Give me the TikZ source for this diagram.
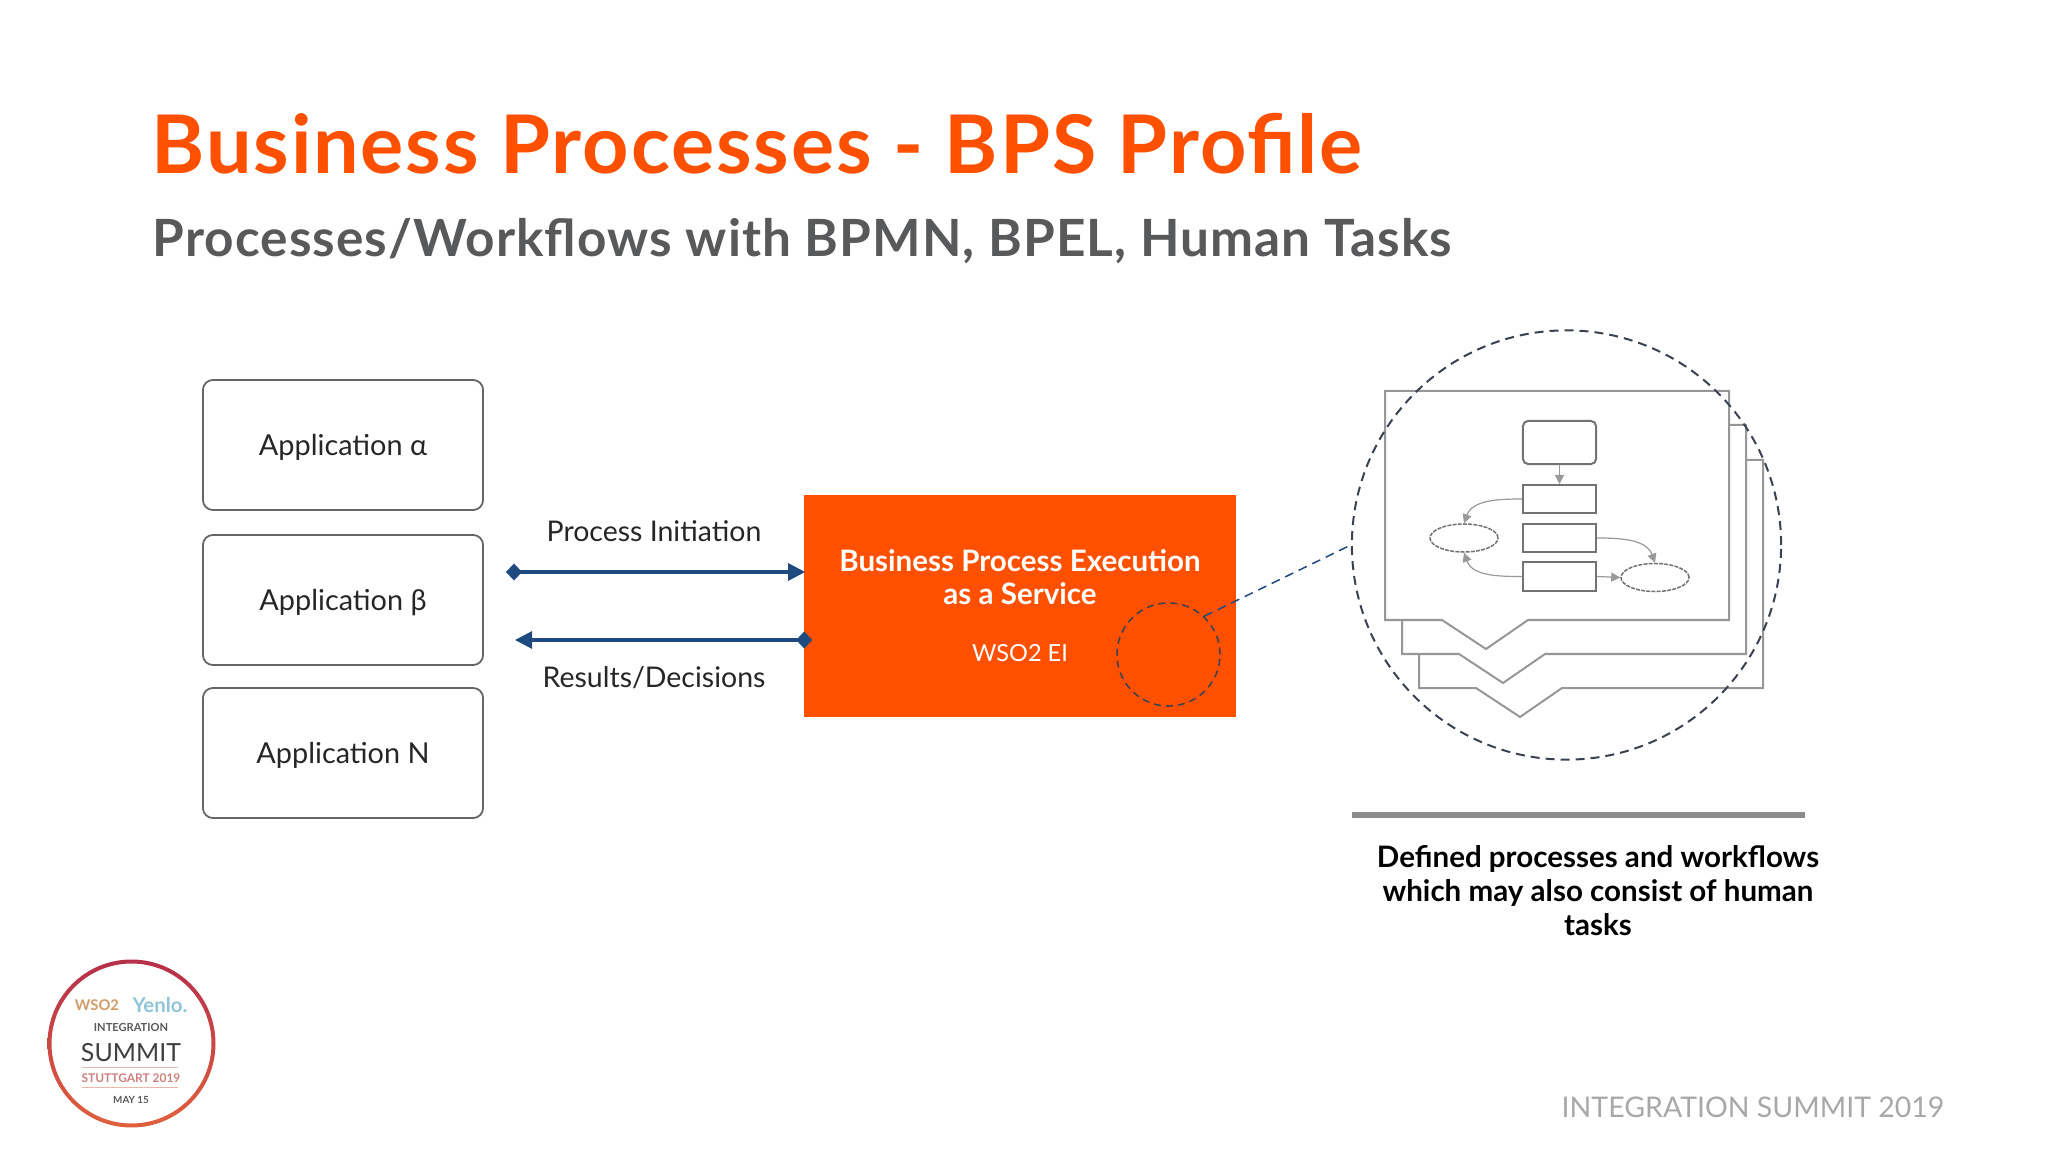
\documentclass[tikz,border=0pt]{standalone}
\usepackage{fontspec}
\setmainfont{Lato}
\usetikzlibrary{arrows.meta,shapes.geometric}
\definecolor{bpsorange}{HTML}{FF5000}
\definecolor{subgray}{HTML}{58595B}
\definecolor{flownavy}{HTML}{1F4A80}
\definecolor{pagegray}{HTML}{979797}
\definecolor{dashgray}{HTML}{3A4250}
\definecolor{footgray}{HTML}{A8A8A8}
\definecolor{ringtop}{HTML}{B5304A}
\definecolor{ringbottom}{HTML}{E0603C}
\definecolor{badgesalmon}{HTML}{E8B8A8}
\newcommand{\fsz}[1]{\fontsize{#1pt}{#1pt}\selectfont}

\begin{document}
\begin{tikzpicture}[x=0.01cm,y=0.01cm]
\tikzstyle{every node}+=[inner sep=0pt]
\tikzstyle{appbox}=[draw=black!60,line width=0.018cm,rounded corners=0.1cm,minimum width=2.8cm,minimum height=1.3cm,font=\fsz{8.2},text=black!85,text height=0.21cm,text depth=0cm]
\tikzstyle{flowlabel}=[font=\fsz{8.1},text=black!85]
\tikzstyle{flowline}=[draw=flownavy,line width=0.03cm]
\tikzstyle{bpetext}=[text=white,font=\fsz{8.4}]
\tikzstyle{pageshape}=[draw=pagegray,line width=0.02cm,fill=white]
\tikzstyle{stepbox}=[draw=black!55,line width=0.02cm,minimum width=0.73cm,minimum height=0.28cm]
\tikzstyle{gatewayoval}=[draw=black!55,line width=0.015cm,dash pattern=on 0.04cm off 0.012cm,ellipse,minimum width=0.68cm,minimum height=0.28cm]
\tikzstyle{miniarrow}=[draw=black!40,line width=0.012cm,-{Triangle[length=0.09cm,width=0.09cm]}]
\tikzstyle{focusring}=[circle,draw=dashgray,line width=0.015cm,dash pattern=on 0.07cm off 0.05cm]
\tikzstyle{logotext}=[font=\fsz{3}\bfseries,text=black!65]
\tikzstyle{badgerule}=[draw=badgesalmon,line width=0.006cm]

\useasboundingbox (0,0) rectangle (2048,-1152);

% heading
\node (title) [anchor=base west,text=bpsorange,font=\fsz{23}\bfseries\addfontfeatures{LetterSpace=2.3}] at (151,-174) {Business Processes - BPS Profile};
\node (subtitle) [anchor=base west,text=subgray,font=\fsz{14.6}\bfseries\addfontfeatures{LetterSpace=2.1}] at (152,-257) {Processes/Workflows with BPMN, BPEL, Human Tasks};

% applications
\node (appalpha) [appbox] at (343,-445) {Application α};
\node (appbeta) [appbox] at (343,-600) {Application β};
\node (appn) [appbox] at (343,-753) {Application N};

% execution service
\node (bpebox) [fill=bpsorange,minimum width=4.32cm,minimum height=2.21cm] at (1020,-606) {};
\node (bpename) [bpetext,font=\fsz{8.4}\bfseries,align=center] at (1020,-577) {Business Process Execution\\[0.04cm]as a Service};
\node (bpeei) [bpetext,font=\fsz{6.7}] at (1020,-653) {WSO2 EI};
\node (zoomring) [focusring,minimum size=1.03cm] at (1168.5,-654.5) {};

\coordinate (initstart) at (506,-572);
\coordinate (resultend) at (515,-640);
\draw [flowline,{Diamond[length=0.16cm,width=0.17cm]}-{Triangle[length=0.17cm,width=0.17cm]}] (initstart) -- ([xshift=0.02cm]bpebox.west |- initstart);
\draw [flowline,{Diamond[length=0.16cm,width=0.17cm]}-{Triangle[length=0.17cm,width=0.17cm]}] ([xshift=0.09cm]bpebox.west |- resultend) -- (resultend);
\node (initlabel) [flowlabel] at (654,-531) {Process Initiation};
\node (resultlabel) [flowlabel] at (654,-678) {Results/Decisions};

% stacked process sheets
\draw [pageshape] (1419,-460) -- (1763,-460) -- (1763,-688) -- (1562,-688) -- (1520,-717) -- (1476,-688) -- (1419,-688) -- cycle;
\draw [pageshape] (1402,-425) -- (1746,-425) -- (1746,-654) -- (1545,-654) -- (1503,-683) -- (1459,-654) -- (1402,-654) -- cycle;
\draw [pageshape] (1385,-391) -- (1729,-391) -- (1729,-620) -- (1528,-620) -- (1486,-649) -- (1442,-620) -- (1385,-620) -- cycle;

% small flow on the top sheet
\node (startbox) [stepbox,rounded corners=0.05cm,minimum height=0.43cm] at (1559.5,-442.5) {};
\node (stepone) [stepbox] at (1559.5,-499) {};
\node (steptwo) [stepbox] at (1559.5,-538) {};
\node (stepthree) [stepbox] at (1559.5,-576.5) {};
\node (ovalleft) [gatewayoval] at (1464,-538) {};
\node (ovalright) [gatewayoval] at (1655,-577.5) {};
\draw [miniarrow] (startbox) -- (stepone);
\draw [miniarrow] (stepone.west) to [out=180,in=70] (ovalleft.north);
\draw [miniarrow] (stepthree.west) to [out=180,in=-70] (ovalleft.south);
\draw [miniarrow] (steptwo.east) to [out=0,in=110] (ovalright.north);
\draw [miniarrow] (stepthree.east) -- (ovalright.west);

\node (detailring) [focusring,minimum size=4.29cm,line width=0.02cm,dash pattern=on 0.09cm off 0.06cm] at (1566.5,-545) {};
\draw [draw=flownavy,line width=0.015cm,dash pattern=on 0.09cm off 0.06cm] (zoomring.47) -- (detailring.180);

% caption
\node (capbar) [fill=black!45,minimum width=4.53cm,minimum height=0.06cm] at (1578.5,-815) {};
\node (caption) [font=\fsz{8.4}\bfseries,text=black,align=center] at (1598,-891) {Defined processes and workflows\\[0.045cm]which may also consist of human\\[0.045cm]tasks};

% footer
\node (footer) [anchor=base east,text=footgray,font=\fsz{8.1}] at (1945,-1117) {INTEGRATION SUMMIT 2019};

% badge
\node (badge) [circle,fill=white,minimum size=1.66cm] at (131.5,-1043.5) {};
\shade [top color=ringtop,bottom color=ringbottom,even odd rule] (131.5,-1043.5) circle (84) (131.5,-1043.5) circle (80);
\node (badgewso) [logotext,font=\fsz{4.2}\bfseries,text=orange!70!black!60] at (97,-1005) {WSO2};
\node (badgeyenlo) [logotext,font=\fsz{5.8}\bfseries,text=cyan!70!black!50] at (160,-1005) {Yenlo.};
\node (badgeint) [logotext,font=\fsz{3.15}\bfseries] at (131,-1027) {INTEGRATION};
\node (badgesum) [logotext,font=\fsz{7.1},text=black!75] at (131,-1053) {SUMMIT};
\node (badgecity) [logotext,font=\fsz{3.4}\bfseries,text=red!60!black!50] at (131,-1078) {STUTTGART 2019};
\node (badgedate) [logotext,font=\fsz{2.8}\bfseries] at (131,-1100) {MAY 15};
\draw [badgerule] (82,-1067) -- (178,-1067);
\draw [badgerule] (82,-1087) -- (178,-1087);
\end{tikzpicture}
\end{document}
